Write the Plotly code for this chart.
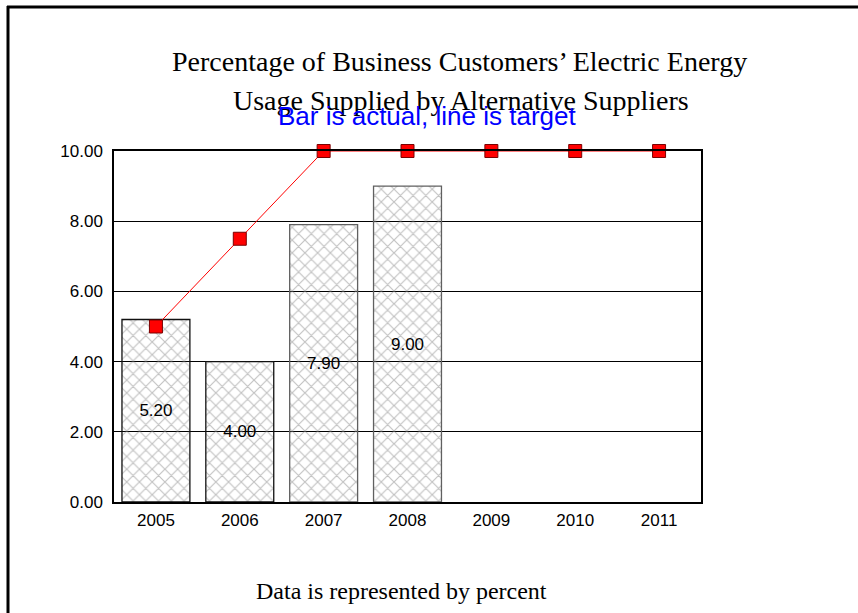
import plotly.graph_objects as go

# Chart data
years = ["2005", "2006", "2007", "2008", "2009", "2010", "2011"]
actual = [5.20, 4.00, 7.90, 9.00, None, None, None]
target = [5.0, 7.5, 10.0, 10.0, 10.0, 10.0, 10.0]
y_ticks = [0, 2, 4, 6, 8, 10]

W, H = 858, 613
L, R, T, B = 114, 157, 151, 111
PW, PH = W - L - R, H - T - B

SANS = "Liberation Sans, Arial"
SERIF = "Liberation Serif, Times New Roman"


def px(x):
    return (x - L) / PW


def py(y):
    return 1 - (y - T) / PH


fig = go.Figure()

fig.add_trace(go.Bar(
    x=years,
    y=actual,
    marker=dict(
        color="rgba(255,255,255,0)",
        line=dict(color=["#111111", "#111111", "#606060", "#606060"], width=1.3),
        pattern=dict(shape="x", fgcolor="#858585", bgcolor="rgba(255,255,255,0)",
                     size=9, solidity=0.24),
    ),
    texttemplate="%{y:.2f}",
    textposition="inside",
    insidetextanchor="middle",
    textangle=0,
    textfont=dict(family=SANS, size=17, color="black"),
    cliponaxis=False,
    showlegend=False,
))

fig.add_trace(go.Scatter(
    x=years,
    y=target,
    mode="lines+markers",
    line=dict(color="#ff0000", width=1),
    marker=dict(symbol="square", size=13, color="#ff0000",
                line=dict(color="#7a0000", width=1)),
    cliponaxis=False,
    showlegend=False,
))

fig.update_layout(
    width=W, height=H,
    margin=dict(l=L, r=R, t=T, b=B),
    paper_bgcolor="white",
    plot_bgcolor="white",
    bargap=0.19,
    font=dict(family=SANS, size=17, color="black"),
    xaxis=dict(
        showgrid=False, showline=True, linecolor="black", linewidth=1.5, mirror=True,
        ticks="", ticklabelstandoff=2,
        tickfont=dict(size=17),
    ),
    yaxis=dict(
        range=[0, 10], tickvals=y_ticks, tickformat=".2f",
        showgrid=True, gridcolor="black", gridwidth=1,
        showline=True, linecolor="black", linewidth=1.5, mirror=True,
        ticks="", zeroline=False, tickfont=dict(size=17), ticklabelstandoff=6,
    ),
    annotations=[
        dict(text="Percentage of Business Customers\u2019 Electric Energy",
             x=px(459), y=py(61), xref="paper", yref="paper",
             xanchor="center", yanchor="middle", showarrow=False,
             font=dict(family=SERIF, size=28, color="black")),
        dict(text="Usage Supplied by Alternative Suppliers",
             x=px(461), y=py(101), xref="paper", yref="paper",
             xanchor="center", yanchor="middle", showarrow=False,
             font=dict(family=SERIF, size=28, color="black")),
        dict(text="Bar is actual, line is target",
             x=px(427), y=py(116), xref="paper", yref="paper",
             xanchor="center", yanchor="middle", showarrow=False,
             font=dict(family=SANS, size=26, color="#0000ff")),
        dict(text="Data is represented by percent",
             x=px(401), y=py(591), xref="paper", yref="paper",
             xanchor="center", yanchor="middle", showarrow=False,
             font=dict(family=SERIF, size=24, color="black")),
    ],
    shapes=[
        dict(type="line", xref="paper", yref="paper",
             x0=px(7), x1=px(W + 2), y0=py(7), y1=py(7),
             line=dict(color="black", width=3)),
        dict(type="line", xref="paper", yref="paper",
             x0=px(8), x1=px(8), y0=py(6), y1=py(H + 2),
             line=dict(color="black", width=3)),
    ],
)

fig.write_html("out.html")
